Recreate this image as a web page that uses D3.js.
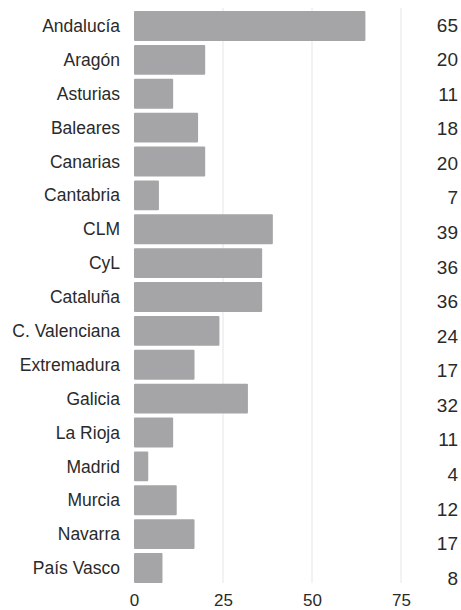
<!DOCTYPE html>
<html>
<head>
<meta charset="utf-8">
<script src="https://cdn.jsdelivr.net/npm/d3@7"></script>
<style>
  body { margin: 0; background: #fff; }
  text { font-family: "Liberation Sans", Arial, sans-serif; fill: #2a2a2a; }
</style>
</head>
<body>
<div id="chart"></div>
<script>
// regions and their counts
var regions = ["Andalucía", "Aragón", "Asturias", "Baleares", "Canarias", "Cantabria", "CLM", "CyL",
    "Cataluña", "C. Valenciana", "Extremadura", "Galicia", "La Rioja", "Madrid", "Murcia", "Navarra", "País Vasco"];
var counts = [65, 20, 11, 18, 20, 7, 39, 36, 36, 24, 17, 32, 11, 4, 12, 17, 8];
var ticks = [0, 25, 50, 75];

var width = 461, height = 610;

var svg = d3.select("#chart").append("svg")
    .attr("width", width)
    .attr("height", height);

var x = d3.scaleLinear().domain([0, 75]).range([134, 401]);
var y = d3.scaleBand().domain(regions).range([11, 583]).paddingInner(0.115);
// the value column is spaced a little looser than the bars
var yv = d3.scalePoint().domain(regions).range([25, 578]);

// gridlines
svg.append("g")
    .selectAll("line")
    .data(ticks.slice(1))
    .enter().append("line")
    .attr("x1", function(d) { return x(d); })
    .attr("x2", function(d) { return x(d); })
    .attr("y1", 8)
    .attr("y2", 583)
    .attr("stroke", "#e6e6e6")
    .attr("stroke-width", 1);

// bars
svg.append("g")
    .selectAll("rect")
    .data(regions)
    .enter().append("rect")
    .attr("x", x(0))
    .attr("y", function(d) { return y(d); })
    .attr("width", function(d, i) { return x(counts[i]) - x(0); })
    .attr("height", y.bandwidth())
    .attr("rx", 1)
    .attr("fill", "#a5a5a8");

// category labels
svg.append("g")
    .selectAll("text")
    .data(regions)
    .enter().append("text")
    .attr("x", 120)
    .attr("y", function(d) { return y(d) + y.bandwidth() / 2; })
    .attr("dy", "0.35em")
    .attr("text-anchor", "end")
    .style("font-size", "17.5px")
    .text(function(d) { return d; });

// value labels on the right
svg.append("g")
    .selectAll("text")
    .data(regions)
    .enter().append("text")
    .attr("x", 458)
    .attr("y", function(d) { return yv(d); })
    .attr("dy", "0.35em")
    .attr("text-anchor", "end")
    .style("font-size", "19px")
    .text(function(d, i) { return counts[i]; });

// bottom axis
var axis = svg.append("g")
    .attr("transform", "translate(0,590)")
    .call(d3.axisBottom(x).tickValues(ticks).tickSize(0).tickPadding(4));
axis.select(".domain").remove();
axis.selectAll("text")
    .style("font-size", "17px")
    .style("font-family", "'Liberation Sans', Arial, sans-serif")
    .attr("fill", "#2a2a2a");
</script>
</body>
</html>
